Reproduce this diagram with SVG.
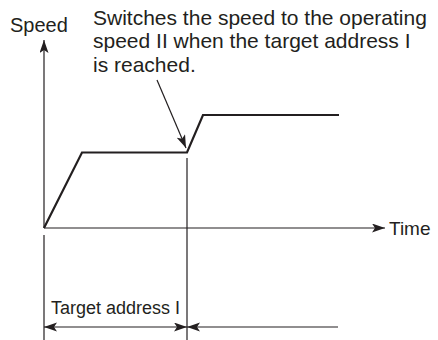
<svg xmlns="http://www.w3.org/2000/svg" width="438" height="340" viewBox="0 0 438 340">
<style>
text{font-family:"Liberation Sans",Arial,sans-serif;fill:#231f20}
.thin{stroke:#231f20;stroke-width:1.2;fill:none}
.thick{stroke:#231f20;stroke-width:2.2;fill:none;stroke-linejoin:miter}
</style>
<defs>
<marker id="ah" markerUnits="userSpaceOnUse" markerWidth="14" markerHeight="10" refX="13" refY="4.5" orient="auto">
<path d="M0,0 L13,4.5 L0,9 L3,4.5 z" fill="#231f20"/>
</marker>
</defs>
<rect width="438" height="340" fill="#fff"/>
<g id="labels">
<text x="10" y="32" font-size="20">Speed</text>
<text x="389" y="235" font-size="19">Time</text>
<text x="93" y="25" font-size="21">Switches the speed to the operating</text>
<text x="93" y="48" font-size="21">speed II when the target address I</text>
<text x="93" y="72" font-size="21">is reached.</text>
<text x="51" y="314" font-size="18">Target address I</text>
</g>
<g id="profile">
<polyline class="thick" points="44,228 82,152.5 187,152.5 203,115 339,115"/>
</g>
<g id="connectors">
<line class="thin" x1="44" y1="228" x2="44" y2="40" marker-end="url(#ah)"/>
<line class="thin" x1="44" y1="228" x2="385" y2="228" marker-end="url(#ah)"/>
<line class="thin" x1="157" y1="80" x2="186" y2="148" stroke-width="1" marker-end="url(#ah)"/>
<line class="thin" x1="187" y1="158" x2="187" y2="340"/>
<line class="thin" x1="44" y1="235" x2="44" y2="340"/>
<line class="thin" x1="115" y1="327" x2="44" y2="327" marker-end="url(#ah)"/>
<line class="thin" x1="115" y1="327" x2="187" y2="327" marker-end="url(#ah)"/>
<line class="thin" x1="338" y1="327" x2="187" y2="327" marker-end="url(#ah)"/>
</g>
</svg>
